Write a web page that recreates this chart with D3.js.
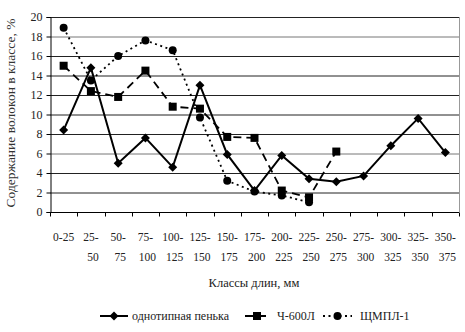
<!DOCTYPE html>
<html><head><meta charset="utf-8">
<script src="https://cdn.jsdelivr.net/npm/d3@7"></script>
<style>body{margin:0;background:#fff}svg{display:block}</style>
</head><body><svg id="c" width="465" height="332"></svg>
<script>
const categories = ["0-25","25-50","50-75","75-100","100-125","125-150","150-175","175-200","200-225","225-250","250-275","275-300","300-325","325-350","350-375"];
const odnotipnaya = [8.4,14.8,5.0,7.6,4.6,13.0,5.9,2.2,5.8,3.4,3.1,3.7,6.8,9.6,6.1];
const ch600 = [15.0,12.4,11.8,14.5,10.8,10.6,7.7,7.6,2.2,1.5,6.2,null,null,null,null];
const shmpl = [18.9,13.5,16.0,17.6,16.6,9.7,3.2,2.1,1.7,1.0,null,null,null,null,null];
const yTicks = [0,2,4,6,8,10,12,14,16,18,20];
const seriesNames = ["однотипная пенька","Ч-600Л","ЩМПЛ-1"];

const svg = d3.select("#c");
const font = "'Liberation Serif', 'Times New Roman', serif";
const L = 50, R = 459, T = 17, B = 212;
const x = d3.scaleBand().domain(categories).range([L, R]);
const y = d3.scaleLinear().domain([0, 20]).range([B, T]);

// gridlines
svg.append("g").selectAll("line").data(yTicks.filter(d => d > 0)).join("line")
  .attr("x1", L).attr("x2", R).attr("y1", d => y(d) + 0.5).attr("y2", d => y(d) + 0.5)
  .attr("stroke", d => (d % 4 === 2 && d !== 2 && d !== 10 && d !== 14) ? "#777" : "#222")
  .attr("stroke-width", 1);
// right border
svg.append("line").attr("x1", R + 0.5).attr("x2", R + 0.5).attr("y1", T).attr("y2", B)
  .attr("stroke", "#999");

// y axis
const ya = svg.append("g").attr("transform", `translate(${L + 0.5},0)`)
  .call(d3.axisLeft(y).tickValues(yTicks).tickSize(4).tickPadding(4));
ya.select(".domain").attr("stroke", "#000");
ya.selectAll("text").attr("font-family", font).attr("font-size", 12).attr("fill", "#222");

// x axis
const xa = svg.append("g").attr("transform", `translate(0,${B + 0.5})`);
xa.append("line").attr("x1", L).attr("x2", R).attr("stroke", "#000");
const bounds = d3.range(categories.length + 1).map(i => L + i * x.bandwidth());
xa.selectAll("line.tk").data(bounds).join("line").attr("class", "tk")
  .attr("x1", d => Math.round(d) + 0.5).attr("x2", d => Math.round(d) + 0.5)
  .attr("y1", 0).attr("y2", 4).attr("stroke", "#000");
xa.selectAll("text.lb").data(categories).join("text").attr("class", "lb")
  .attr("font-family", font).attr("font-size", 11.5).attr("fill", "#222")
  .attr("text-anchor", "middle")
  .each(function(d) {
    const cx = x(d) + x.bandwidth() / 2;
    const t = d3.select(this);
    if (d === "0-25") {
      t.append("tspan").attr("x", cx).attr("y", 28).text(d);
    } else {
      const p = d.split("-");
      t.append("tspan").attr("x", cx).attr("y", 28).text(p[0] + "-");
      t.append("tspan").attr("x", cx + 2).attr("y", 48).text(p[1]);
    }
  });

// titles
svg.append("text").attr("transform", "translate(15,113) rotate(-90)")
  .attr("text-anchor", "middle").attr("font-family", font).attr("font-size", 13.5).attr("fill", "#333")
  .text("Содержание волокон в классе, %");
svg.append("text").attr("x", 254).attr("y", 287).attr("text-anchor", "middle")
  .attr("font-family", font).attr("font-size", 12.5).attr("fill", "#222").text("Классы длин, мм");

const cxf = (d, i) => x(categories[i]) + x.bandwidth() / 2;
const line = d3.line().defined(d => d != null).x((d, i) => cxf(d, i)).y(d => y(d));

const styles = [
  {data: odnotipnaya, dash: null, sw: 2, marker: "diamond"},
  {data: ch600, dash: "8,5", sw: 1.8, marker: "square"},
  {data: shmpl, dash: "2,3.5", sw: 1.8, marker: "circle"}
];
function drawMarker(g, type, cx, cy) {
  if (type === "diamond") {
    g.append("path").attr("d", `M${cx},${cy-4.5}L${cx+4.5},${cy}L${cx},${cy+4.5}L${cx-4.5},${cy}Z`).attr("fill", "#000");
  } else if (type === "square") {
    g.append("rect").attr("x", cx - 4).attr("y", cy - 4).attr("width", 8).attr("height", 8).attr("fill", "#000");
  } else {
    g.append("circle").attr("cx", cx).attr("cy", cy).attr("r", 4).attr("fill", "#000");
  }
}
styles.slice().reverse().forEach(s => {
  svg.append("path").datum(s.data).attr("d", line).attr("fill", "none")
    .attr("stroke", "#000").attr("stroke-width", s.sw)
    .attr("stroke-dasharray", s.dash);
});
styles.forEach(s => {
  const g = svg.append("g");
  s.data.forEach((v, i) => { if (v != null) drawMarker(g, s.marker, cxf(v, i), y(v)); });
});

// legend
const legY = 316;
const legItems = [
  {x0: 100, x1: 128, tx: 132},
  {x0: 245, x1: 269, tx: 277},
  {x0: 323, x1: 352, tx: 360}
];
legItems.forEach((li, k) => {
  const s = styles[k];
  svg.append("line").attr("x1", li.x0).attr("x2", li.x1).attr("y1", legY).attr("y2", legY)
    .attr("stroke", "#000").attr("stroke-width", s.sw).attr("stroke-dasharray", s.dash);
  drawMarker(svg, s.marker, (li.x0 + li.x1) / 2, legY);
  svg.append("text").attr("x", li.tx).attr("y", legY + 4).attr("font-family", font)
    .attr("font-size", 12).attr("fill", "#222").text(seriesNames[k]);
});
</script></body></html>
